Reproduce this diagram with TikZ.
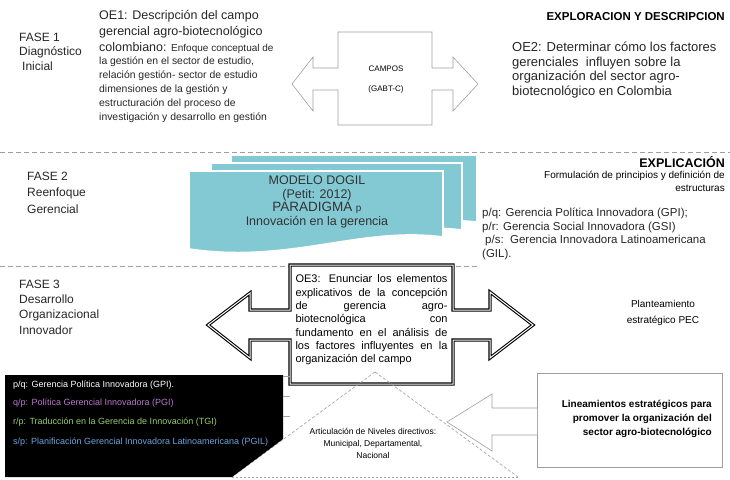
\documentclass[tikz,border=0pt]{standalone}
\usepackage{fontspec}
\setmainfont{Liberation Sans}
\usetikzlibrary{positioning}
\definecolor{hojateal}{RGB}{130,201,212}
\definecolor{lilaq}{RGB}{186,120,206}
\definecolor{verder}{RGB}{150,205,100}
\definecolor{azuls}{RGB}{105,165,225}
\newcommand{\fsz}[2]{\fontsize{#1}{#2}\selectfont}

\begin{document}
\begin{tikzpicture}[x=1pt,y=-1pt,
  fase/.style={anchor=west,align=left,inner sep=0pt,text=black!85,font=\fsz{12}{15}},
  linea/.style={gray!75,line width=.8pt,dash pattern=on 5pt off 3pt},
  flecha/.style={draw=gray!75,line width=.6pt,fill=white},
  flechadoble/.style={draw=black,line width=1.1pt,double=white,double distance=1pt},
  hoja/.style={fill=hojateal,draw=white,line width=1.6pt},
  tri/.style={gray!70,line width=.7pt,dash pattern=on 3pt off 2pt},
  lista/.style={anchor=west,inner sep=0pt,font=\fsz{9}{11}}]
\useasboundingbox (0,0) rectangle (730,479);

% FASE 1
\node[fase,font=\fsz{12}{14.5}] (faseuno) at (19,51.5) {FASE 1\\Diagnóstico\\\hspace{3pt}Inicial};
\node[fase,font=\fsz{12.5}{16}] (oeuno) at (99,32)
  {OE1: Descripción del campo\\gerencial agro-biotecnológico\\colombiano: {\fsz{10}{12}Enfoque conceptual de}};
\node[fase,font=\fsz{10.4}{14}] (oeunob) at (99,90)
  {la gestión en el sector de estudio,\\relación gestión- sector de estudio\\dimensiones de la gestión y\\estructuración del proceso de\\investigación y desarrollo en gestión};
\draw[flecha] (292,84) -- (313,57) -- (313,68) -- (338,68) -- (338,32) -- (432,32) -- (432,68)
  -- (453,68) -- (453,57) -- (478,84) -- (453,111) -- (453,90) -- (432,90) -- (432,125)
  -- (338,125) -- (338,90) -- (313,90) -- (313,111) -- cycle;
\node[font=\fsz{8}{10},inner sep=0pt] (campos) at (386,69) {CAMPOS};
\node[font=\fsz{8}{10},inner sep=0pt] (gabt) at (386,89) {(GABT-C)};
\node[anchor=east,inner sep=0pt,font=\bfseries\fsz{11.5}{13}] (explora) at (725,17) {EXPLORACION Y DESCRIPCION};
\node[fase,font=\fsz{13}{14.5}] (oedos) at (512,70)
  {OE2: Determinar cómo los factores\\gerenciales\ \ influyen sobre la\\organización del sector agro-\\biotecnológico en Colombia};

\draw[linea] (0,152) -- (730,152);

% FASE 2
\node[fase,font=\fsz{12}{16.5}] (fasedos) at (27,192.5) {FASE 2\\Reenfoque\\Gerencial};
\draw[hoja] (231,155) -- (477,155) -- (477,222) .. controls (400,214) and (330,240) .. (231,232) -- cycle;
\draw[hoja] (211,163) -- (462,163) -- (462,230) .. controls (390,221) and (310,250) .. (211,240) -- cycle;
\draw[hoja] (189,171) -- (443,171) -- (443,237) .. controls (360,226) and (290,264) .. (189,249) -- cycle;
\node[align=center,inner sep=0pt,text=black!80,font=\fsz{12.5}{13.5}] (dogil) at (317,202)
  {MODELO DOGIL\\(Petit: 2012)\\{\fsz{13.5}{13.5}PARADIGMA} {\fsz{10}{13.5}p}\\Innovación en la gerencia};
\node[anchor=east,inner sep=0pt,font=\bfseries\fsz{12.5}{14}] (explica) at (725,162) {EXPLICACIÓN};
\node[anchor=east,align=right,inner sep=0pt,font=\fsz{10}{13}] (formula) at (725,181.5)
  {Formulación de principios y definición de\\estructuras};
\node[fase,font=\fsz{11.5}{13.5}] (pq) at (482,234)
  {p/q: Gerencia Política Innovadora (GPI);\\p/r: Gerencia Social Innovadora (GSI)\\\hspace{3pt}p/s:\ \ Gerencia Innovadora Latinoamericana\\(GIL).};

\draw[linea] (0,266) -- (478,266);

% FASE 3
\node[fase,font=\fsz{12}{15.3}] (fasetres) at (19,307) {FASE 3\\Desarrollo\\Organizacional\\Innovador};
\draw[flechadoble,fill=white] (208,325) -- (250,293) -- (250,310) -- (290,310) -- (290,265) -- (453,265)
  -- (453,310) -- (490,310) -- (490,292) -- (533,325) -- (490,358) -- (490,340) -- (453,340)
  -- (453,384) -- (290,384) -- (290,340) -- (250,340) -- (250,358) -- cycle;
\node[align=left,inner sep=0pt,font=\fsz{11}{13.3}] (oetres) at (371.5,320)
  {\makebox[152pt][s]{OE3: Enunciar los elementos}\\
   \makebox[152pt][s]{explicativos de la concepción}\\
   \makebox[152pt][s]{de gerencia agro-}\\
   \makebox[152pt][s]{biotecnológica con}\\
   \makebox[152pt][s]{fundamento en el análisis de}\\
   \makebox[152pt][s]{los factores influyentes en la}\\
   organización del campo};
\node[align=center,inner sep=0pt,font=\fsz{10}{16}] (pec) at (663,313) {Planteamiento\\estratégico PEC};

% triangulo y cuadro negro
\draw[tri] (375,372) -- (232,477);
\draw[tri] (375,372) -- (518,477);
\draw[tri,dash pattern=on 2pt off 2pt] (232,477) -- (518,477);
\node[align=center,inner sep=0pt,font=\fsz{8.5}{12}] (niveles) at (373,443)
  {Articulación de Niveles directivos:\\Municipal, Departamental,\\Nacional};
\fill[black] (5,375) -- (283,375) -- (283,439) -- (232,477) -- (5,477) -- cycle;
\foreach \y in {376,396,416}
  \draw[gray!70,line width=.6pt] (283,\y) -- (290,\y);
\node[lista,text=white] (gpi) at (13,385) {p/q: Gerencia Política Innovadora (GPI).};
\node[lista,text=lilaq] (pgi) at (13,403.5) {q/p: Política Gerencial Innovadora (PGI)};
\node[lista,text=verder] (tgi) at (13,422.5) {r/p: Traducción en la Gerencia de Innovación (TGI)};
\node[lista,text=azuls] (pgil) at (13,442) {s/p: Planificación Gerencial Innovadora Latinoamericana (PGIL)};

% lineamientos
\draw[gray!75,line width=.6pt] (537,373) rectangle (722,467);
\draw[gray!75,line width=.6pt,fill=white] (537,408) -- (492,408) -- (492,394) -- (447,422)
  -- (492,451) -- (492,435) -- (537,435);
\node[anchor=east,align=right,inner sep=0pt,font=\bfseries\fsz{10}{14}] (linea) at (712,419)
  {Lineamientos estratégicos para\\promover la organización del\\sector agro-biotecnológico};
\end{tikzpicture}
\end{document}
